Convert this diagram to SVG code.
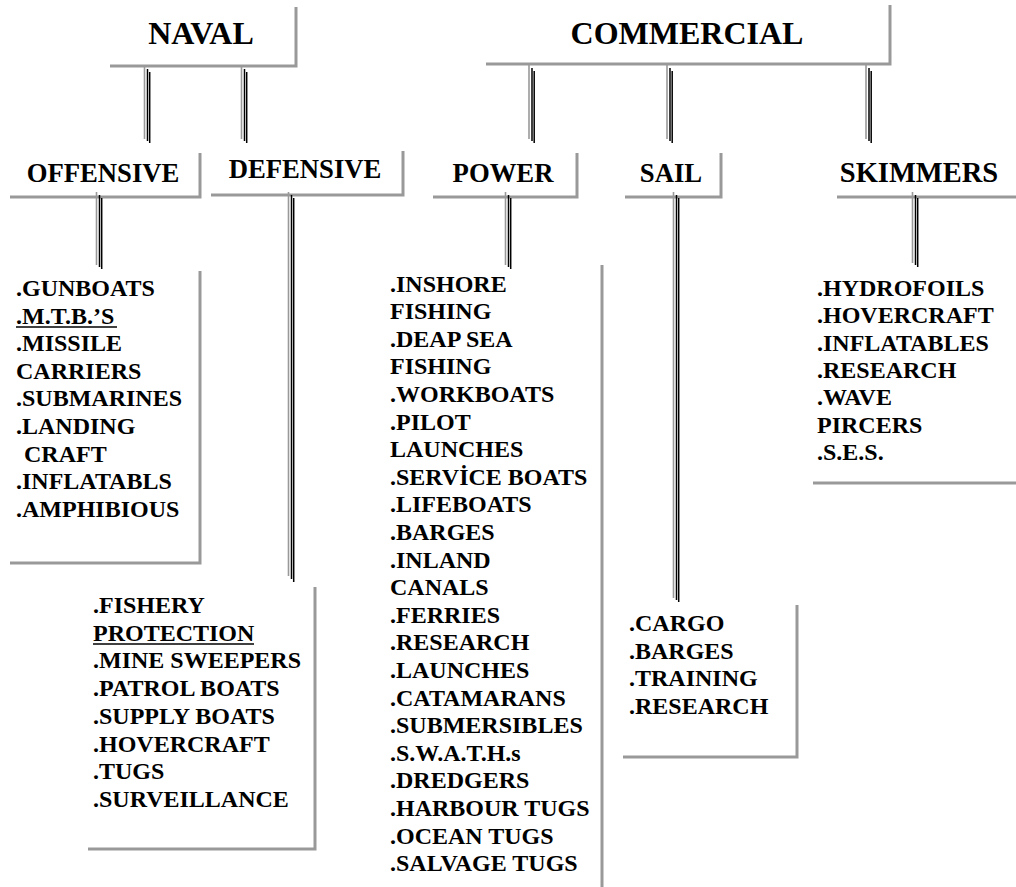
<svg xmlns="http://www.w3.org/2000/svg" width="1016" height="887" viewBox="0 0 1016 887">
<style>
.b{fill:none;stroke:#999;stroke-width:3}
.t{font-family:"Liberation Serif","Times New Roman",serif;font-weight:bold;fill:#000}
.h{font-size:32px;text-anchor:middle}
.c{font-size:26.7px;text-anchor:middle}
.l{font-size:24px}
.cg{stroke:#999;stroke-width:1.6}
.ck{stroke:#000;stroke-width:1.5}
.u{stroke:#000;stroke-width:1.5}
</style>
<rect width="1016" height="887" fill="#fff"/>
<g id="naval"><path class="b" d="M110 66H296V7"/><text class="t h" x="201" y="44">NAVAL</text></g>
<g id="commercial"><path class="b" d="M486 64H890V5"/><text class="t h" x="687" y="44">COMMERCIAL</text></g>
<g id="offensive"><path class="b" d="M10 197H200V153"/><text class="t c" x="103" y="182">OFFENSIVE</text></g>
<g id="defensive"><path class="b" d="M211 195H403V151"/><text class="t c" x="305" y="178">DEFENSIVE</text></g>
<g id="power"><path class="b" d="M433 197H577V153"/><text class="t c" x="503" y="182">POWER</text></g>
<g id="sail"><path class="b" d="M625 197H721V153"/><text class="t c" x="671" y="182">SAIL</text></g>
<g id="skimmers"><path class="b" d="M837 197H1016"/><text class="t c" x="919" y="182" style="font-size:28.5px">SKIMMERS</text></g>
<g id="offensive-list"><path class="b" d="M10 563H200V271"/>
<text class="t l" x="16" y="296">.GUNBOATS</text>
<text class="t l" x="16" y="323.6">.M.T.B.’S</text>
<line class="u" x1="16" y1="327" x2="117" y2="327"/>
<text class="t l" x="16" y="351.2">.MISSILE</text>
<text class="t l" x="16" y="378.8">CARRIERS</text>
<text class="t l" x="16" y="406.4">.SUBMARINES</text>
<text class="t l" x="16" y="434">.LANDING</text>
<text class="t l" x="24" y="461.6">CRAFT</text>
<text class="t l" x="16" y="489.2">.INFLATABLS</text>
<text class="t l" x="16" y="516.8">.AMPHIBIOUS</text>
</g>
<g id="defensive-list"><path class="b" d="M88 849H315V587"/>
<text class="t l" x="93" y="613">.FISHERY</text>
<text class="t l" x="93" y="640.7">PROTECTION</text>
<line class="u" x1="93" y1="644" x2="254" y2="644"/>
<text class="t l" x="93" y="668.4">.MINE SWEEPERS</text>
<text class="t l" x="93" y="696.1">.PATROL BOATS</text>
<text class="t l" x="93" y="723.8">.SUPPLY BOATS</text>
<text class="t l" x="93" y="751.5">.HOVERCRAFT</text>
<text class="t l" x="93" y="779.2">.TUGS</text>
<text class="t l" x="93" y="806.9">.SURVEILLANCE</text>
</g>
<g id="power-list"><path class="b" d="M602 265V887"/>
<text class="t l" x="390" y="291.5">.INSHORE</text>
<text class="t l" x="390" y="319.1">FISHING</text>
<text class="t l" x="390" y="346.7">.DEAP SEA</text>
<text class="t l" x="390" y="374.3">FISHING</text>
<text class="t l" x="390" y="401.9">.WORKBOATS</text>
<text class="t l" x="390" y="429.5">.PILOT</text>
<text class="t l" x="390" y="457.1">LAUNCHES</text>
<text class="t l" x="390" y="484.7">.SERVİCE BOATS</text>
<text class="t l" x="390" y="512.3">.LIFEBOATS</text>
<text class="t l" x="390" y="539.9">.BARGES</text>
<text class="t l" x="390" y="567.5">.INLAND</text>
<text class="t l" x="390" y="595.1">CANALS</text>
<text class="t l" x="390" y="622.7">.FERRIES</text>
<text class="t l" x="390" y="650.3">.RESEARCH</text>
<text class="t l" x="390" y="677.9">.LAUNCHES</text>
<text class="t l" x="390" y="705.5">.CATAMARANS</text>
<text class="t l" x="390" y="733.1">.SUBMERSIBLES</text>
<text class="t l" x="390" y="760.7">.S.W.A.T.H.s</text>
<text class="t l" x="390" y="788.3">.DREDGERS</text>
<text class="t l" x="390" y="815.9">.HARBOUR TUGS</text>
<text class="t l" x="390" y="843.5">.OCEAN TUGS</text>
<text class="t l" x="390" y="871.1">.SALVAGE TUGS</text>
</g>
<g id="sail-list"><path class="b" d="M623 757H797V605"/>
<text class="t l" x="629" y="631">.CARGO</text>
<text class="t l" x="629" y="658.5">.BARGES</text>
<text class="t l" x="629" y="686">.TRAINING</text>
<text class="t l" x="629" y="713.5">.RESEARCH</text>
</g>
<g id="skimmers-list"><path class="b" d="M813 483H1016"/>
<text class="t l" x="817" y="296">.HYDROFOILS</text>
<text class="t l" x="817" y="323.3">.HOVERCRAFT</text>
<text class="t l" x="817" y="350.6">.INFLATABLES</text>
<text class="t l" x="817" y="377.9">.RESEARCH</text>
<text class="t l" x="817" y="405.2">.WAVE</text>
<text class="t l" x="817" y="432.5">PIRCERS</text>
<text class="t l" x="817" y="459.8">.S.E.S.</text>
</g>
<g id="connectors">
<line class="cg" x1="144.5" y1="66" x2="144.5" y2="139"/><line class="ck" x1="147.5" y1="69" x2="147.5" y2="141"/><line class="ck" x1="149.7" y1="72" x2="149.7" y2="143"/>
<line class="cg" x1="241.5" y1="66" x2="241.5" y2="139"/><line class="ck" x1="244.5" y1="69" x2="244.5" y2="141"/><line class="ck" x1="246.7" y1="72" x2="246.7" y2="143"/>
<line class="cg" x1="529" y1="65" x2="529" y2="139"/><line class="ck" x1="532" y1="68" x2="532" y2="141"/><line class="ck" x1="534.2" y1="71" x2="534.2" y2="143"/>
<line class="cg" x1="667" y1="65" x2="667" y2="139"/><line class="ck" x1="670" y1="68" x2="670" y2="141"/><line class="ck" x1="672.2" y1="71" x2="672.2" y2="143"/>
<line class="cg" x1="866" y1="65" x2="866" y2="139"/><line class="ck" x1="869" y1="68" x2="869" y2="141"/><line class="ck" x1="871.2" y1="71" x2="871.2" y2="143"/>
<line class="cg" x1="96.5" y1="192" x2="96.5" y2="265"/><line class="ck" x1="99.5" y1="195" x2="99.5" y2="267"/><line class="ck" x1="101.7" y1="198" x2="101.7" y2="269"/>
<line class="cg" x1="288.5" y1="192" x2="288.5" y2="576"/><line class="ck" x1="291.5" y1="195" x2="291.5" y2="579"/><line class="ck" x1="293.7" y1="198" x2="293.7" y2="582"/>
<line class="cg" x1="505.5" y1="192" x2="505.5" y2="265"/><line class="ck" x1="508.5" y1="195" x2="508.5" y2="267"/><line class="ck" x1="510.7" y1="198" x2="510.7" y2="269"/>
<line class="cg" x1="673.5" y1="192" x2="673.5" y2="598"/><line class="ck" x1="676.5" y1="195" x2="676.5" y2="600"/><line class="ck" x1="678.7" y1="198" x2="678.7" y2="602"/>
<line class="cg" x1="912.5" y1="192" x2="912.5" y2="263"/><line class="ck" x1="915.5" y1="195" x2="915.5" y2="265"/><line class="ck" x1="917.7" y1="198" x2="917.7" y2="267"/>
</g>
</svg>
